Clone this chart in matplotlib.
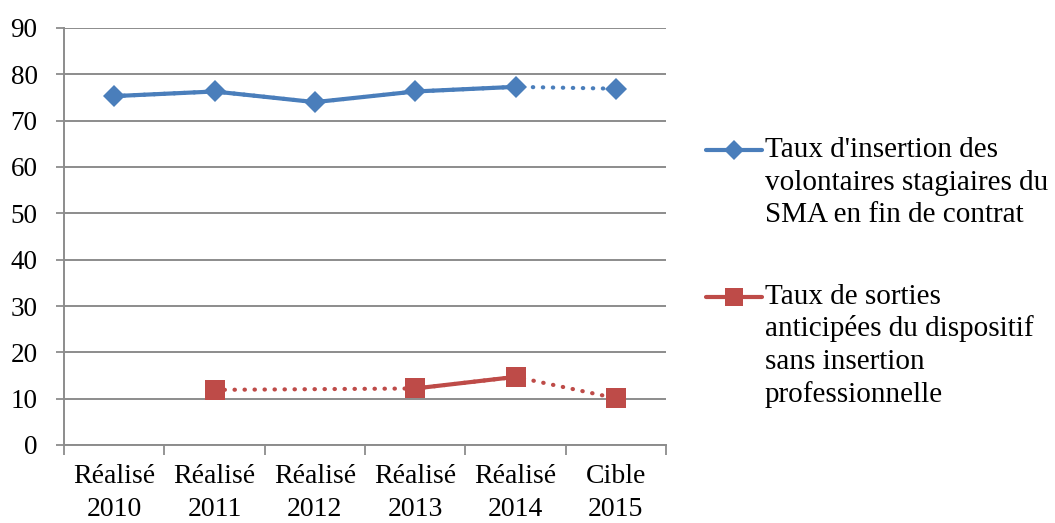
import numpy as np
import matplotlib
matplotlib.use("Agg")
import matplotlib.pyplot as plt
from matplotlib.lines import Line2D

# Categories and series values
categories = ["Réalisé\n2010", "Réalisé\n2011", "Réalisé\n2012",
              "Réalisé\n2013", "Réalisé\n2014", "Cible\n2015"]
insertion = [75.3, 76.3, 74.0, 76.3, 77.3, 76.9]
sorties = [np.nan, 11.9, np.nan, 12.2, 14.7, 10.1]
# Number of realised (non-target) points; the last category is the target
n_realised = 5

series_labels = [
    "Taux d'insertion des\nvolontaires stagiaires du\nSMA en fin de contrat",
    "Taux de sorties\nanticipées du dispositif\nsans insertion\nprofessionnelle",
]

blue = "#4A7EBB"
red = "#BE4B48"
grid_c = "#8C8C8C"

plt.rcParams["font.family"] = ["Liberation Serif", "DejaVu Serif"]

fig = plt.figure(figsize=(10.55, 5.23), dpi=100)
ax = fig.add_axes([64 / 1055, 78 / 523, 602 / 1055, 417 / 523])

x = np.arange(len(categories))


def draw_series(values, color, marker, ms):
    vals = np.asarray(values, dtype=float)
    valid = ~np.isnan(vals)
    # dotted link through every available point (gaps and target)
    ax.plot(x[valid], vals[valid], color=color, lw=3,
            linestyle=(0, (0.1, 2.3)), dash_capstyle="round", zorder=3)
    # solid line over consecutive realised values
    realised = vals.copy()
    realised[n_realised:] = np.nan
    ax.plot(x, realised, color=color, lw=3, solid_capstyle="butt", zorder=4)
    ax.plot(x[valid], vals[valid], linestyle="none", marker=marker,
            ms=ms, color=color, mew=0, zorder=5)


draw_series(insertion, blue, "D", 11)
draw_series(sorties, red, "s", 14)

ax.set_ylim(0, 90)
ax.set_yticks(np.arange(0, 91, 10))
ax.set_xlim(-0.5, len(categories) - 0.5)
ax.set_xticks(np.arange(-0.5, len(categories), 1.0))
ax.set_xticklabels([])
ax.set_xticks(x, minor=True)
ax.set_xticklabels(categories, minor=True, fontsize=20)
for lab in ax.get_xticklabels(minor=True):
    lab.set_linespacing(1.38)

ax.tick_params(axis="x", which="major", length=7, width=1.3, color=grid_c,
               direction="out")
ax.tick_params(axis="x", which="minor", length=0, pad=14)
ax.tick_params(axis="y", length=6, width=1.3, color=grid_c, pad=13,
               labelsize=19.5)

ax.grid(axis="y", color=grid_c, lw=1.4, zorder=0)
ax.set_axisbelow(True)
for side in ["top", "right"]:
    ax.spines[side].set_visible(False)
for side in ["left", "bottom"]:
    ax.spines[side].set_color(grid_c)
    ax.spines[side].set_linewidth(1.4)

# Legend drawn at fixed figure positions, one text line at a time
H = 523.0
W = 1055.0
line_step = 32.5
legend_entries = [(blue, "D", 11, series_labels[0], 150, 157),
                  (red, "s", 14, series_labels[1], 297, 304)]
for color, marker, ms, text, yhandle, ybase in legend_entries:
    yf = 1 - yhandle / H
    fig.add_artist(Line2D([706 / W, 762 / W], [yf, yf], color=color, lw=3,
                          solid_capstyle="round", transform=fig.transFigure))
    fig.add_artist(Line2D([734 / W], [yf], marker=marker, ms=ms - 1,
                          color=color, mew=0, transform=fig.transFigure))
    for i, line in enumerate(text.split("\n")):
        fig.text(765 / W, 1 - (ybase + i * line_step) / H, line,
                 fontsize=21, va="baseline", ha="left",
                 transform=fig.transFigure)

fig.savefig("out.png", dpi=100)
